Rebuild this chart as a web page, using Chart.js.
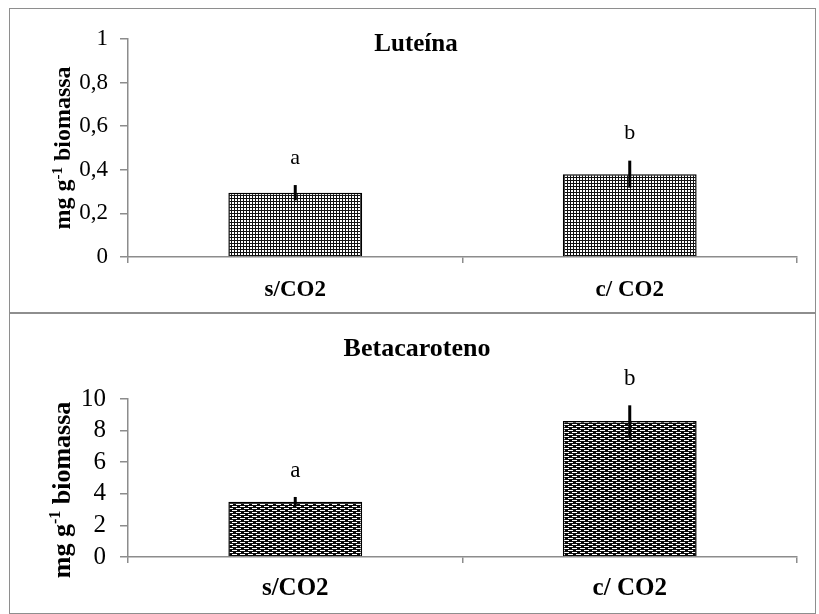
<!DOCTYPE html>
<html>
<head>
<meta charset="utf-8">
<script src="https://cdn.jsdelivr.net/npm/chart.js@4.4.1/dist/chart.umd.min.js"></script>
<style>
  html, body { margin: 0; padding: 0; background: #ffffff; }
  #fig { position: relative; width: 819px; height: 614px; overflow: hidden; background: #ffffff; }
  .frame { position: absolute; left: 9px; width: 807px; border: 1.5px solid #8e8e8e; box-sizing: border-box; }
  canvas { position: absolute; left: 0; }
</style>
</head>
<body>
<div id="fig">
  <div class="frame" style="top:8px;height:306px;"></div>
  <div class="frame" style="top:312px;height:302px;"></div>
  <canvas id="lut" width="819" height="312" style="top:0px;"></canvas>
  <canvas id="beta" width="819" height="301" style="top:313px;"></canvas>
</div>
<script>
// Treatments (x categories)
const categories = ['s/CO2', 'c/ CO2'];

// Luteína, mg g-1 biomassa: means, error bars and significance letters
const luteinaValues = [0.295, 0.38];
const luteinaErrors = [0.035, 0.062];
const luteinaLetters = ['a', 'b'];
const luteinaTickLabels = ['0', '0,2', '0,4', '0,6', '0,8', '1'];

// Betacaroteno, mg g-1 biomassa
const betaValues = [3.5, 8.6];
const betaErrors = [0.3, 1.0];
const betaLetters = ['a', 'b'];
const betaTickLabels = ['0', '2', '4', '6', '8', '10'];

const panelTitles = ['Luteína', 'Betacaroteno'];
const axisTitleParts = ['mg g', '-1', ' biomassa'];

const SERIF = '"Liberation Serif", "Times New Roman", serif';
const AXIS_GRAY = '#8c8c8c';

// Fill patterns: dotted grid for the first chart, dashed brick for the second
function dotPattern() {
  const c = document.createElement('canvas');
  c.width = 3; c.height = 3;
  const g = c.getContext('2d');
  g.fillStyle = '#111111'; g.fillRect(0, 0, 3, 3);
  g.fillStyle = '#ffffff';
  g.fillRect(1, 1, 2, 2);
  return g.createPattern(c, 'repeat');
}
function dashPattern() {
  const c = document.createElement('canvas');
  c.width = 8; c.height = 4;
  const g = c.getContext('2d');
  g.fillStyle = '#0a0a0a'; g.fillRect(0, 0, 8, 4);
  g.fillStyle = '#ffffff';
  g.fillRect(0, 1, 5, 1);
  g.fillRect(4, 3, 4, 1); g.fillRect(0, 3, 1, 1);
  return g.createPattern(c, 'repeat');
}

// Draws the error bars, the letters above them, the panel title and the y-axis title
const decorations = {
  id: 'decorations',
  afterDatasetsDraw(chart, args, opts) {
    const ctx = chart.ctx;
    const ys = chart.scales.y;
    const meta = chart.getDatasetMeta(0);
    const ds = chart.data.datasets[0];
    ctx.save();
    ctx.strokeStyle = '#000000';
    ctx.lineWidth = 3;
    ctx.fillStyle = '#000000';
    ctx.font = opts.letterSize + 'px ' + SERIF;
    ctx.textAlign = 'center';
    ctx.textBaseline = 'middle';
    meta.data.forEach((bar, i) => {
      const v = ds.data[i], e = opts.errors[i];
      const top = ys.getPixelForValue(v + e);
      const bot = ys.getPixelForValue(v - e);
      ctx.beginPath();
      ctx.moveTo(bar.x, top);
      ctx.lineTo(bar.x, bot);
      ctx.stroke();
      ctx.fillText(opts.letters[i], bar.x, top - opts.letterGap);
    });

    // panel title
    ctx.font = 'bold ' + opts.titleSize + 'px ' + SERIF;
    ctx.fillText(opts.title, opts.titleX, opts.titleY);

    // rotated y-axis title with superscript
    const s = opts.axisSize;
    const sup = Math.round(s * 0.62);
    ctx.font = 'bold ' + s + 'px ' + SERIF;
    const w1 = ctx.measureText(axisTitleParts[0]).width;
    const w3 = ctx.measureText(axisTitleParts[2]).width;
    ctx.font = 'bold ' + sup + 'px ' + SERIF;
    const w2 = ctx.measureText(axisTitleParts[1]).width;
    const total = w1 + w2 + w3;
    ctx.translate(opts.axisX, opts.axisY);
    ctx.rotate(-Math.PI / 2);
    ctx.textAlign = 'left';
    ctx.textBaseline = 'alphabetic';
    const base = s * 0.3;
    let x = -total / 2;
    ctx.font = 'bold ' + s + 'px ' + SERIF;
    ctx.fillText(axisTitleParts[0], x, base); x += w1;
    ctx.font = 'bold ' + sup + 'px ' + SERIF;
    ctx.fillText(axisTitleParts[1], x, base - s * 0.36); x += w2;
    ctx.font = 'bold ' + s + 'px ' + SERIF;
    ctx.fillText(axisTitleParts[2], x, base);
    ctx.restore();
  }
};

function makeChart(id, cfg) {
  return new Chart(document.getElementById(id), {
    type: 'bar',
    data: {
      labels: categories,
      datasets: [{
        data: cfg.values,
        backgroundColor: cfg.fill,
        borderColor: '#000000',
        borderWidth: 1.5,
        categoryPercentage: 1.0,
        barPercentage: 0.40
      }]
    },
    options: {
      responsive: false,
      animation: false,
      events: [],
      layout: { padding: { top: cfg.padTop, right: 22, bottom: 0, left: 0 } },
      plugins: {
        legend: { display: false },
        tooltip: { enabled: false },
        title: { display: false },
        decorations: cfg.deco
      },
      scales: {
        x: {
          grid: { display: true, drawOnChartArea: false, offset: true, tickLength: 6, color: AXIS_GRAY, lineWidth: 1.5 },
          border: { display: true, color: AXIS_GRAY, width: 1.5 },
          ticks: { color: '#000000', padding: cfg.xPad, font: { family: SERIF, size: cfg.xSize, weight: 'bold' } },
          afterFit(scale) { scale.height = cfg.xHeight; }
        },
        y: {
          min: 0,
          max: cfg.max,
          grid: { display: true, drawOnChartArea: false, tickLength: 8, color: AXIS_GRAY, lineWidth: 1.5 },
          border: { display: true, color: AXIS_GRAY, width: 1.5 },
          ticks: {
            stepSize: cfg.step,
            autoSkip: false,
            color: '#000000',
            padding: cfg.yPad,
            font: { family: SERIF, size: cfg.ySize },
            callback: (value, index) => cfg.tickLabels[index]
          },
          afterFit(scale) { scale.width = 128; }
        }
      }
    },
    plugins: [decorations]
  });
}

makeChart('lut', {
  values: luteinaValues,
  fill: dotPattern(),
  max: 1, step: 0.2,
  tickLabels: luteinaTickLabels,
  padTop: 39, xHeight: 55, xPad: 13, xSize: 23, yPad: 12, ySize: 23,
  deco: {
    errors: luteinaErrors, letters: luteinaLetters, letterSize: 22, letterGap: 27,
    title: panelTitles[0], titleSize: 25, titleX: 416, titleY: 45,
    axisSize: 24, axisX: 63, axisY: 148
  }
});

makeChart('beta', {
  values: betaValues,
  fill: dashPattern(),
  max: 10, step: 2,
  tickLabels: betaTickLabels,
  padTop: 86, xHeight: 57, xPad: 11, xSize: 25, yPad: 14, ySize: 25,
  deco: {
    errors: betaErrors, letters: betaLetters, letterSize: 23, letterGap: 26,
    title: panelTitles[1], titleSize: 26, titleX: 417, titleY: 36,
    axisSize: 26, axisX: 62, axisY: 177
  }
});
</script>
</body>
</html>
